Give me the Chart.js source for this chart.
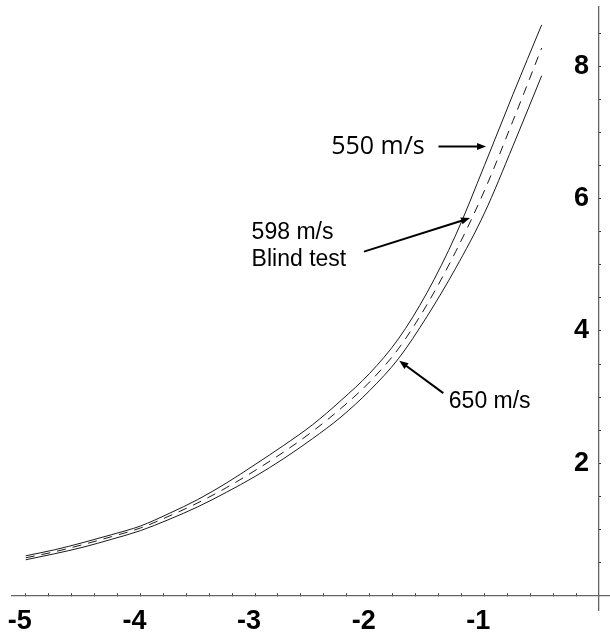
<!DOCTYPE html>
<html><head><meta charset="utf-8">
<script src="https://cdn.jsdelivr.net/npm/chart.js@4.4.1/dist/chart.umd.min.js"></script>
<style>html,body{margin:0;padding:0;background:#fff;overflow:hidden}#wrap{position:relative;width:610px;height:634px}</style>
</head><body><div id="wrap"><canvas id="c" width="610" height="634"></canvas></div>
<script>
// ---- data ----
const xValues = [-5, -4.75, -4.5, -4.25, -4, -3.75, -3.5, -3.25, -3, -2.75, -2.5, -2.25, -2, -1.75, -1.5, -1.25, -1, -0.75, -0.5];
const v550 = [0.60, 0.69, 0.80, 0.92, 1.05, 1.24, 1.45, 1.70, 1.98, 2.27, 2.58, 2.95, 3.36, 3.88, 4.58, 5.45, 6.50, 7.58, 8.63];
const v598 = [0.57, 0.66, 0.77, 0.89, 1.02, 1.20, 1.40, 1.63, 1.89, 2.17, 2.48, 2.83, 3.23, 3.73, 4.40, 5.20, 6.12, 7.18, 8.28];
const v650 = [0.54, 0.63, 0.73, 0.85, 0.98, 1.15, 1.34, 1.56, 1.80, 2.07, 2.37, 2.70, 3.10, 3.58, 4.22, 4.95, 5.78, 6.80, 7.86];
const seriesNames = ['550 m/s', '598 m/s Blind test', '650 m/s'];
const xTickLabels = [-5, -4, -3, -2, -1];
const yTickLabels = [2, 4, 6, 8];
const xMinorStep = 0.2;
const yMinorStep = 0.5;

// annotations (data coordinates)
const notes = [
  {lines: ['550 m/s'], tx: -1.52, ty: 6.785, align: 'right', font: '25px "Open Sans"', from: [-1.40, 6.79], to: [-0.985, 6.79]},
  {lines: ['598 m/s', 'Blind test'], tx: -3.03, ty: 5.48, align: 'left', font: '23px "Liberation Sans"', from: [-2.05, 5.20], to: [-1.125, 5.707]},
  {lines: ['650 m/s'], tx: -1.31, ty: 2.93, align: 'left', font: '23px "Liberation Sans"', from: [-1.358, 3.06], to: [-1.742, 3.55]}
];

const pts = (ys) => xValues.map((x, i) => ({x: x, y: ys[i]}));

function makeTicks(min, max, step) {
  const out = [];
  const n0 = Math.ceil(min / step - 1e-9), n1 = Math.floor(max / step + 1e-9);
  for (let n = n0; n <= n1; n++) out.push({value: +(n * step).toFixed(6)});
  return out;
}

const annot = {
  id: 'annot',
  afterDatasetsDraw(chart) {
    const {ctx, scales: {x, y}} = chart;
    ctx.save();
    ctx.fillStyle = '#000';
    ctx.strokeStyle = '#000';
    notes.forEach(n => {
      ctx.font = n.font;
      ctx.textAlign = n.align;
      ctx.textBaseline = 'middle';
      const px = x.getPixelForValue(n.tx);
      n.lines.forEach((t, i) => ctx.fillText(t, px, y.getPixelForValue(n.ty) + i * 26.5));
      const x0 = x.getPixelForValue(n.from[0]), y0 = y.getPixelForValue(n.from[1]);
      const x1 = x.getPixelForValue(n.to[0]), y1 = y.getPixelForValue(n.to[1]);
      const a = Math.atan2(y1 - y0, x1 - x0);
      const hl = 9, hw = 3.5;
      ctx.lineWidth = 2;
      ctx.beginPath();
      ctx.moveTo(x0, y0);
      ctx.lineTo(x1 - Math.cos(a) * hl * 0.8, y1 - Math.sin(a) * hl * 0.8);
      ctx.stroke();
      ctx.beginPath();
      ctx.moveTo(x1, y1);
      ctx.lineTo(x1 - Math.cos(a) * hl - Math.sin(a) * hw, y1 - Math.sin(a) * hl + Math.cos(a) * hw);
      ctx.lineTo(x1 - Math.cos(a) * hl + Math.sin(a) * hw, y1 - Math.sin(a) * hl - Math.cos(a) * hw);
      ctx.closePath();
      ctx.fill();
    });
    ctx.restore();
  }
};

const bg = {
  id: 'bg',
  beforeDraw(chart) {
    const ctx = chart.ctx;
    ctx.save(); ctx.fillStyle = '#fff'; ctx.fillRect(0, 0, chart.width, chart.height); ctx.restore();
    // keep a gap between the y tick labels and the axis line
    const ys = chart.scales.y;
    ys.getLabelItems(chart.chartArea).forEach(it => { it.options.translation[0] -= 10; });
  }
};

const isLabel = (v, list) => list.some(t => Math.abs(t - v) < 1e-6);
const tickFont = {family: '"Liberation Sans", Arial, sans-serif', size: 27, weight: 'bold'};

new Chart(document.getElementById('c'), {
  type: 'line',
  data: {
    datasets: [
      {label: seriesNames[0], data: pts(v550), borderColor: '#1a1a1a', borderWidth: 1, pointRadius: 0, cubicInterpolationMode: 'monotone', fill: false},
      {label: seriesNames[1], data: pts(v598), borderColor: '#1a1a1a', borderWidth: 1, borderDash: [9, 7], pointRadius: 0, cubicInterpolationMode: 'monotone', fill: false},
      {label: seriesNames[2], data: pts(v650), borderColor: '#1a1a1a', borderWidth: 1, pointRadius: 0, cubicInterpolationMode: 'monotone', fill: false}
    ]
  },
  options: {
    responsive: false,
    animation: false,
    devicePixelRatio: 1,
    layout: {padding: {left: 12, right: 0, top: 7, bottom: 24}},
    plugins: {legend: {display: false}, tooltip: {enabled: false}},
    scales: {
      x: {
        type: 'linear', min: -5.12, max: 0.096,
        position: {y: 0},
        afterBuildTicks: s => { s.ticks = makeTicks(-5, -0.2, xMinorStep); },
        afterFit: s => { s.height = 0; s.paddingLeft = 0; s.paddingRight = 0; },
        grid: {drawOnChartArea: false, drawTicks: true, tickLength: -3, tickColor: '#333', tickWidth: 1},
        border: {display: true, color: '#666', width: 1.3},
        ticks: {
          autoSkip: false, maxRotation: 0, minRotation: 0, padding: 13, labelOffset: -6,
          color: '#000', font: tickFont,
          callback: v => isLabel(v, xTickLabels) ? String(Math.round(v)) : ''
        }
      },
      y: {
        type: 'linear', min: -0.22, max: 8.9,
        position: {x: 0},
        afterBuildTicks: s => { s.ticks = makeTicks(0.5, 8.5, yMinorStep); },
        afterFit: s => { s.width = 0; s.paddingTop = 0; s.paddingBottom = 0; },
        grid: {drawOnChartArea: false, drawTicks: true, tickLength: -3, tickColor: '#333', tickWidth: 1},
        border: {display: true, color: '#666', width: 1.3},
        ticks: {
          autoSkip: false, padding: 10,
          color: '#000', font: tickFont,
          callback: v => isLabel(v, yTickLabels) ? String(Math.round(v)) : ''
        }
      }
    }
  },
  plugins: [bg, annot]
});
</script></body></html>
